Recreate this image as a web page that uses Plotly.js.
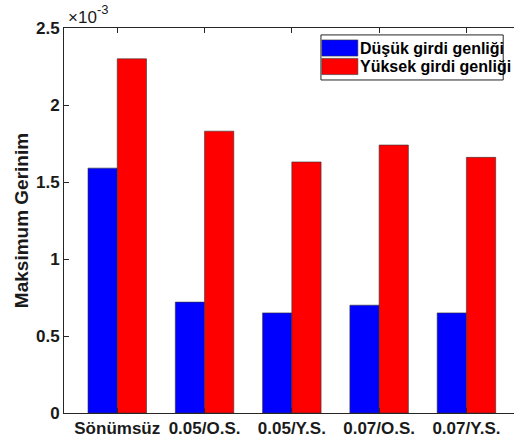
<!DOCTYPE html>
<html>
<head>
<meta charset="utf-8">
<script src="https://cdn.plot.ly/plotly-3.0.1.min.js"></script>
<style>html,body{margin:0;padding:0;background:#fff;}#chart{width:514px;height:446px;}</style>
</head>
<body>
<div id="chart"></div>
<script>
const categories = ["Sönümsüz", "0.05/O.S.", "0.05/Y.S.", "0.07/O.S.", "0.07/Y.S."];
const seriesNames = ["Düşük girdi genliği", "Yüksek girdi genliği"];
const lowAmplitude = [1.59, 0.72, 0.65, 0.70, 0.65];
const highAmplitude = [2.30, 1.83, 1.63, 1.74, 1.66];
const yTickVals = [0, 0.5, 1, 1.5, 2, 2.5];
const yTickText = ["0", "0.5", "1", "1.5", "2", "2.5"];
const exponentBase = "×10";
const exponentPower = "-3";
const colors = ["#0000FF", "#FF0000"];

const xIdx = categories.map((c, i) => i);
const fam = "Liberation Sans, Arial, sans-serif";
const txtColor = "#1a1a1a";

const traces = [lowAmplitude, highAmplitude].map((vals, k) => ({
  type: "bar",
  x: xIdx,
  y: vals,
  name: seriesNames[k],
  marker: {color: colors[k], line: {color: "#333333", width: 0.6}},
  showlegend: false,
  hoverinfo: "skip"
}));

// custom legend (MATLAB style wide swatches)
const legX0 = 0.571, legX1 = 0.976, legY1 = 0.982, legY0 = 0.865;
const swX0 = 0.573, swX1 = 0.653, swH = 0.021;
const swYc = [0.948, 0.900];
const shapes = [
  {type: "rect", xref: "paper", yref: "paper", x0: legX0, x1: legX1, y0: legY0, y1: legY1,
   line: {color: "#262626", width: 1}, fillcolor: "#ffffff", layer: "above"}
];
const annotations = [
  {xref: "paper", yref: "paper", x: 0.004, y: 1.0, xanchor: "left", yanchor: "bottom",
   text: exponentBase, showarrow: false, font: {family: fam, size: 17, color: txtColor}, yshift: -1},
  {xref: "paper", yref: "paper", x: 0.068, y: 1.0, xanchor: "left", yanchor: "bottom",
   text: exponentPower, showarrow: false, font: {family: fam, size: 13, color: txtColor}, yshift: 9}
];
seriesNames.forEach((n, k) => {
  const yc = swYc[k];
  shapes.push({type: "rect", xref: "paper", yref: "paper", x0: swX0, x1: swX1,
    y0: yc - swH, y1: yc + swH, fillcolor: colors[k], line: {color: "#333333", width: 0.6}, layer: "above"});
  annotations.push({xref: "paper", yref: "paper", x: swX1 + 0.001, y: yc, xanchor: "left", yanchor: "middle",
    text: "<b>" + n + "</b>", showarrow: false, font: {family: fam, size: 16, color: "#000000"}});
});

const layout = {
  width: 514, height: 446,
  margin: {l: 64, r: 0, t: 28, b: 33},
  paper_bgcolor: "#ffffff", plot_bgcolor: "#ffffff",
  font: {family: fam, size: 17, color: txtColor},
  bargap: 0.33, bargroupgap: 0,
  barmode: "group",
  xaxis: {
    range: [-0.61, 4.545],
    tickmode: "array", tickvals: xIdx, ticktext: categories.map(c => "<b>" + c + "</b>"),
    ticks: "inside", ticklen: 5, tickcolor: "#262626",
    showline: true, linecolor: "#262626", linewidth: 1, mirror: "ticks",
    showgrid: false, zeroline: false, fixedrange: true,
    tickfont: {family: fam, size: 17, color: txtColor}
  },
  yaxis: {
    range: [0, 2.5],
    tickmode: "array", tickvals: yTickVals, ticktext: yTickText.map(t => "<b>" + t + "</b>"),
    ticks: "inside", ticklen: 5, tickcolor: "#262626",
    showline: true, linecolor: "#262626", linewidth: 1, mirror: false,
    showgrid: false, zeroline: false, fixedrange: true,
    tickfont: {family: fam, size: 17, color: txtColor},
    title: {text: "<b>Maksimum Gerinim</b>", font: {family: fam, size: 19, color: txtColor}, standoff: 2}
  },
  shapes: shapes,
  annotations: annotations
};

Plotly.newPlot("chart", traces, layout, {displayModeBar: false, staticPlot: true});
</script>
</body>
</html>
